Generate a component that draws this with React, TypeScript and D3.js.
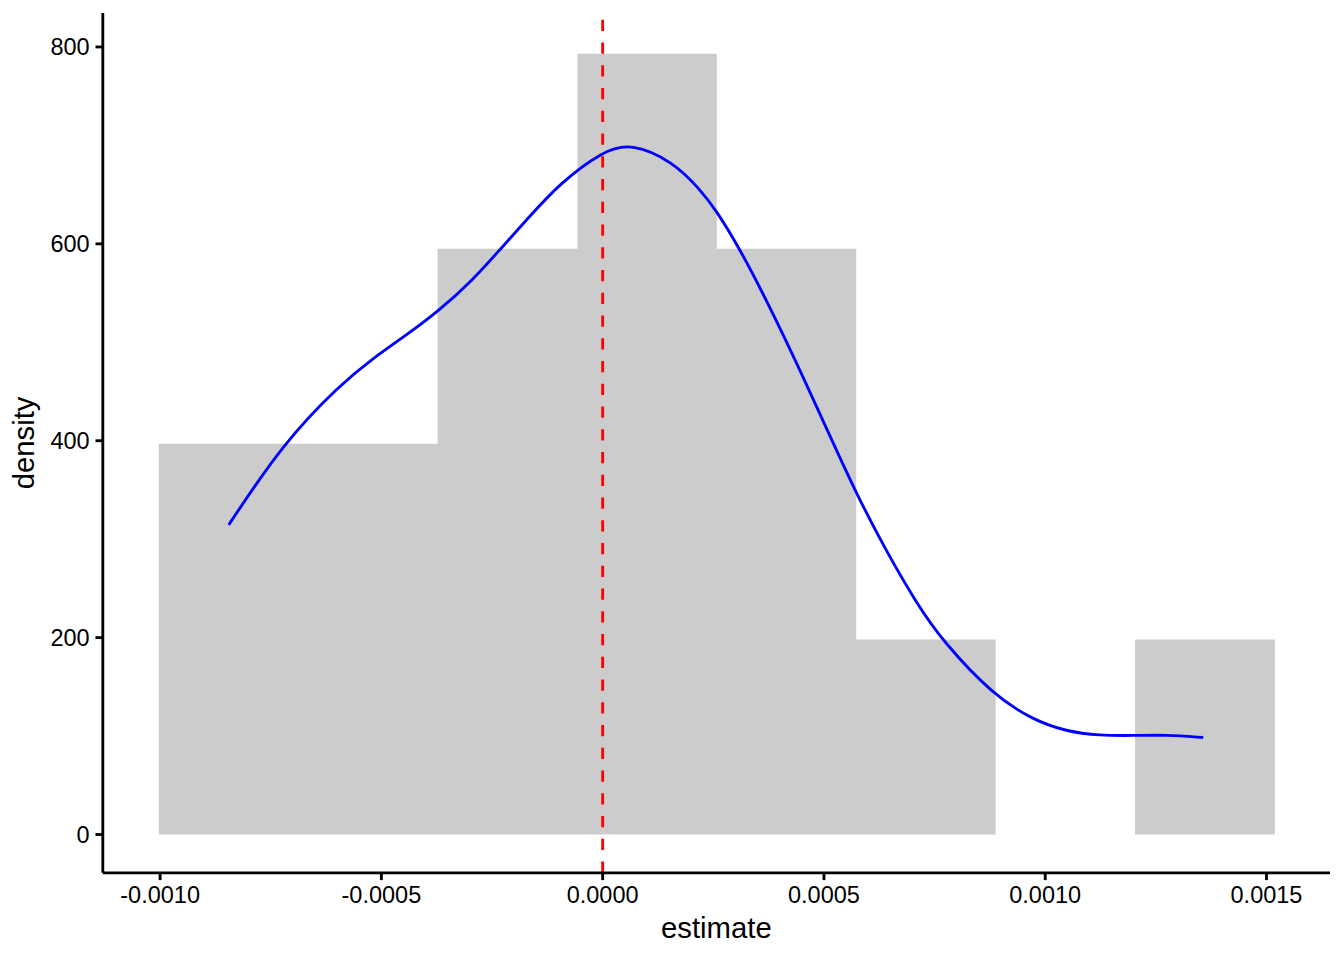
import React from "react";
import * as d3 from "d3";

// Histogram bins (edges) and their density heights
const binEdges = [-0.001003, -0.000688, -0.000373, -0.000057, 0.000258, 0.000573, 0.000888, 0.001203, 0.001519];
const binDensity = [397, 397, 595, 793, 595, 198, 0, 198];

// Kernel density curve
const curveX = [
  -0.000845, -0.000722, -0.000594, -0.000519, -0.000443, -0.000372, -0.000293, -0.000233, -0.000172, -0.000097,
  0.000001, 0.000065, 0.000159, 0.000219, 0.000256, 0.00031, 0.00037, 0.000446, 0.000521, 0.000573,
  0.000637, 0.000709, 0.000769, 0.000882, 0.000972, 0.001048, 0.001123, 0.001198, 0.001274, 0.001357,
];
const curveY = [
  314.5, 397.5, 456.7, 483.8, 507.5, 531.2, 563.4, 593.8, 624.3, 661.6,
  694.5, 702.5, 683.5, 655.8, 634.5, 594.8, 543.0, 471.9, 397.5, 346.7,
  290.9, 235.0, 196.0, 141.9, 116.5, 104.6, 100.5, 100.5, 101.3, 98.5,
];

const refLineX = 0;

const xTickValues = [-0.001, -0.0005, 0, 0.0005, 0.001, 0.0015];
const xTickLabels = ["-0.0010", "-0.0005", "0.0000", "0.0005", "0.0010", "0.0015"];
const yTickValues = [0, 200, 400, 600, 800];
const yTickLabels = ["0", "200", "400", "600", "800"];

const xTitle = "estimate";
const yTitle = "density";

export default function App() {
  const W = 1344;
  const H = 960;
  const left = 102.8;
  const right = 1330;
  const top = 13;
  const bottom = 872.8;

  const x = d3.scaleLinear().domain([-0.0011295, 0.0016435]).range([left, right]);
  const y = d3.scaleLinear().domain([-38.9, 834.5]).range([bottom, top]);

  const pts: [number, number][] = curveX.map((v, i) => [v, curveY[i]]);
  const line = d3
    .line<[number, number]>()
    .x((d) => x(d[0]))
    .y((d) => y(d[1]))
    .curve(d3.curveBasis);

  // histogram as one stepped area (avoids seams between adjacent bars)
  const histPts: [number, number][] = binEdges.map((e, i) => [e, binDensity[Math.min(i, binDensity.length - 1)]]);
  const area = d3
    .area<[number, number]>()
    .x((d) => x(d[0]))
    .y0(y(0))
    .y1((d) => y(d[1]))
    .curve(d3.curveStepAfter);

  const font = "'Liberation Sans', Arial, Helvetica, sans-serif";
  const tickLen = 7.3;
  const axisW = 2.85;

  return (
    <svg
      width={W}
      height={H}
      style={{ position: "absolute", left: 0, top: 0, display: "block", background: "#fff" }}
      fontFamily={font}
    >
      <rect x={0} y={0} width={W} height={H} fill="#ffffff" />
      <path d={area(histPts) || ""} fill="#cccccc" stroke="none" />
      <path d={line(pts) || ""} fill="none" stroke="#0000ff" strokeWidth={2.85} />
      <line
        x1={x(refLineX)}
        x2={x(refLineX)}
        y1={bottom}
        y2={top}
        stroke="#ff0000"
        strokeWidth={2.85}
        strokeDasharray="11.375,11.375"
      />
      {/* axes */}
      <line x1={left} x2={right} y1={bottom} y2={bottom} stroke="#000" strokeWidth={axisW} />
      <line x1={left} x2={left} y1={top} y2={bottom} stroke="#000" strokeWidth={axisW} />
      {xTickValues.map((v, i) => (
        <g key={"x" + i}>
          <line x1={x(v)} x2={x(v)} y1={bottom} y2={bottom + tickLen} stroke="#000" strokeWidth={axisW} />
          <text x={x(v)} y={903.3} textAnchor="middle" fontSize={23.5} fill="#000">
            {xTickLabels[i]}
          </text>
        </g>
      ))}
      {yTickValues.map((v, i) => (
        <g key={"y" + i}>
          <line x1={left - tickLen} x2={left} y1={y(v)} y2={y(v)} stroke="#000" strokeWidth={axisW} />
          <text x={left - tickLen - 5.9} y={y(v) + 8.5} textAnchor="end" fontSize={23.5} fill="#000">
            {yTickLabels[i]}
          </text>
        </g>
      ))}
      <text x={(left + right) / 2} y={938} textAnchor="middle" fontSize={29.3} fill="#000">
        {xTitle}
      </text>
      <text
        transform={`translate(33.5, ${(top + bottom) / 2}) rotate(-90)`}
        textAnchor="middle"
        fontSize={29.3}
        fill="#000"
      >
        {yTitle}
      </text>
    </svg>
  );
}
